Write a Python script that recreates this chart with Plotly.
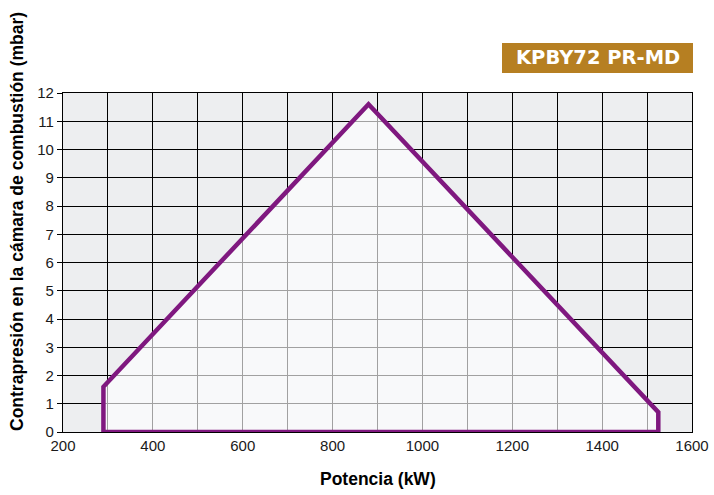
import plotly.graph_objects as go

# Working-field polygon (Potencia kW, Contrapresión mbar)
potencia = [290, 290, 880, 1525, 1525, 290]
presion = [0, 1.6, 11.6, 0.7, 0, 0]

x_ticks = [200, 400, 600, 800, 1000, 1200, 1400, 1600]
y_ticks = list(range(0, 13))

model = "KPBY72 PR-MD"
x_title = "Potencia (kW)"
y_title = "Contrapresión en la cámara de combustión (mbar)"

W, H = 714, 495
L, R, T, B = 63, 22, 93, 63
pw, ph = W - L - R, H - T - B

def px_x(p):
    return (p - L) / pw

def px_y(p):
    return (H - B - p) / ph

fig = go.Figure()
fig.add_trace(go.Scatter(
    x=potencia, y=presion, mode="lines", fill="toself",
    fillcolor="rgba(255,255,255,0.63)",
    line=dict(color="#7f187f", width=4.5),
    hoverinfo="skip", showlegend=False,
))

font = "Liberation Sans, Arial, sans-serif"
fig.update_layout(
    width=W, height=H,
    margin=dict(l=L, r=R, t=T, b=B, autoexpand=False),
    paper_bgcolor="white", plot_bgcolor="#edeef0",
    font=dict(family=font, size=15, color="#1a1a1a"),
    xaxis=dict(range=[200, 1600], tickvals=x_ticks, showgrid=True, automargin=False,
               gridcolor="black", gridwidth=1.3,
               minor=dict(dtick=100, tick0=0, showgrid=True, gridcolor="black", gridwidth=1.3),
               showline=True, linecolor="black", linewidth=1.3, mirror=True,
               ticks="", zeroline=False, tickfont=dict(size=15)),
    yaxis=dict(range=[0, 12], tickvals=y_ticks, showgrid=True, automargin=False,
               gridcolor="black", gridwidth=1.3,
               showline=True, linecolor="black", linewidth=1.3, mirror=True,
               ticks="outside", ticklen=5, tickcolor="black", tickwidth=1.3,
               zeroline=False, tickfont=dict(size=15)),
    annotations=[
        dict(text="<b>%s</b>" % y_title, textangle=-90, xref="paper", yref="paper",
             x=px_x(17), y=px_y(222), xanchor="center", yanchor="middle",
             showarrow=False, font=dict(size=17.5, color="black")),
        dict(text="<b>%s</b>" % x_title, xref="paper", yref="paper",
             x=0.5, y=px_y(479), xanchor="center", yanchor="middle",
             showarrow=False, font=dict(size=17.5, color="black")),
        dict(text="<b>%s</b>" % model, xref="paper", yref="paper",
             x=(px_x(502) + px_x(693)) / 2, y=(px_y(43) + px_y(73)) / 2,
             xanchor="center", yanchor="middle",
             showarrow=False, font=dict(family="DejaVu Sans", size=19.5, color="white")),
    ],
    shapes=[
        dict(type="rect", xref="paper", yref="paper",
             x0=px_x(502), x1=px_x(693), y0=px_y(73), y1=px_y(43),
             fillcolor="#b67f22", line=dict(width=0), layer="below"),
    ],
)

fig.write_html("out.html",
               config=dict(displayModeBar=False, responsive=False),
               post_script="document.body.style.margin='0';document.body.style.overflow='hidden';"
                           "Plotly.relayout(document.getElementById('{plot_id}'), {width:714, height:495});")
